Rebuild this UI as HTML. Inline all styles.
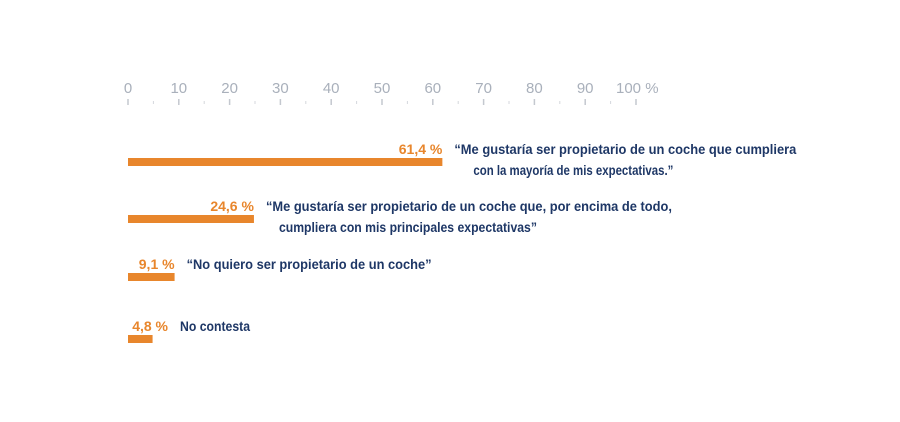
<!DOCTYPE html>
<html><head><meta charset="utf-8"><style>
html,body{margin:0;padding:0;background:#fff;}
svg{display:block;font-family:"Liberation Sans",sans-serif;}
</style></head><body>
<svg id="chart" width="900" height="422" viewBox="0 0 900 422"></svg>
<script>
const values = [61.4, 24.6, 9.1, 4.8];
const valueLabels = ["61,4 %", "24,6 %", "9,1 %", "4,8 %"];
const textLines = [
  ["“Me gustaría ser propietario de un coche que cumpliera", "con la mayoría de mis expectativas.”"],
  ["“Me gustaría ser propietario de un coche que, por encima de todo,", "cumpliera con mis principales expectativas”"],
  ["“No quiero ser propietario de un coche”"],
  ["No contesta"]
];
const tickValues = [0,10,20,30,40,50,60,70,80,90,100];
const tickLabels = ["0","10","20","30","40","50","60","70","80","90","100 %"];

const svg = document.getElementById('chart');
const NS = 'http://www.w3.org/2000/svg';
const x0 = 128;
const axisX = v => x0 + v * 5.08;
const barX = v => x0 + v * 5.12;
const rowY = [158, 215, 273, 335];
const lineW = [[342, 200], [406, 258], [245], [70]];
const lineOff = [[0, 19], [0, 13], [0], [0]];

function mk(tag, attrs){const e=document.createElementNS(NS,tag);for(const k in attrs)e.setAttribute(k,attrs[k]);svg.appendChild(e);return e;}

tickValues.forEach((v,i)=>{
  const t = mk('text',{x:axisX(v), y:93, fill:'#a9b0bb','font-size':15, 'text-anchor':'middle'});
  if(i===10){t.setAttribute('x', axisX(v)-20);t.setAttribute('text-anchor','start');}
  
  
  t.textContent = tickLabels[i];
  const m = mk('line',{x1:axisX(v),x2:axisX(v),y1:99,y2:105,stroke:'#c4c8cf','stroke-width':1.5});
  
  
  if(i<10){
    const mm = mk('line',{x1:axisX(v+5),x2:axisX(v+5),y1:101,y2:104,stroke:'#d4d7dc','stroke-width':1});
    
    
  }
});

values.forEach((v,i)=>{
  const y = rowY[i];
  const end = barX(v);
  const r = mk('rect',{x:x0,y:y,width:end-x0,height:8,fill:'#e8862c'});
  
  
  const lblEnd = Math.max(end, x0+40);
  const l = mk('text',{x:lblEnd,y:y-4,fill:'#e8862c','font-size':14,'font-weight':'bold','text-anchor':'end'});
  
  
  l.textContent = valueLabels[i];
  textLines[i].forEach((s,j)=>{
    const tx = lblEnd + 12 + lineOff[i][j];
    const t = mk('text',{x:tx,y:y-4+j*21,fill:'#1e3766','font-size':14,'font-weight':'bold',textLength:lineW[i][j],lengthAdjust:'spacingAndGlyphs'});
    
    
    t.textContent = s;
  });
});
</script>
</body></html>
